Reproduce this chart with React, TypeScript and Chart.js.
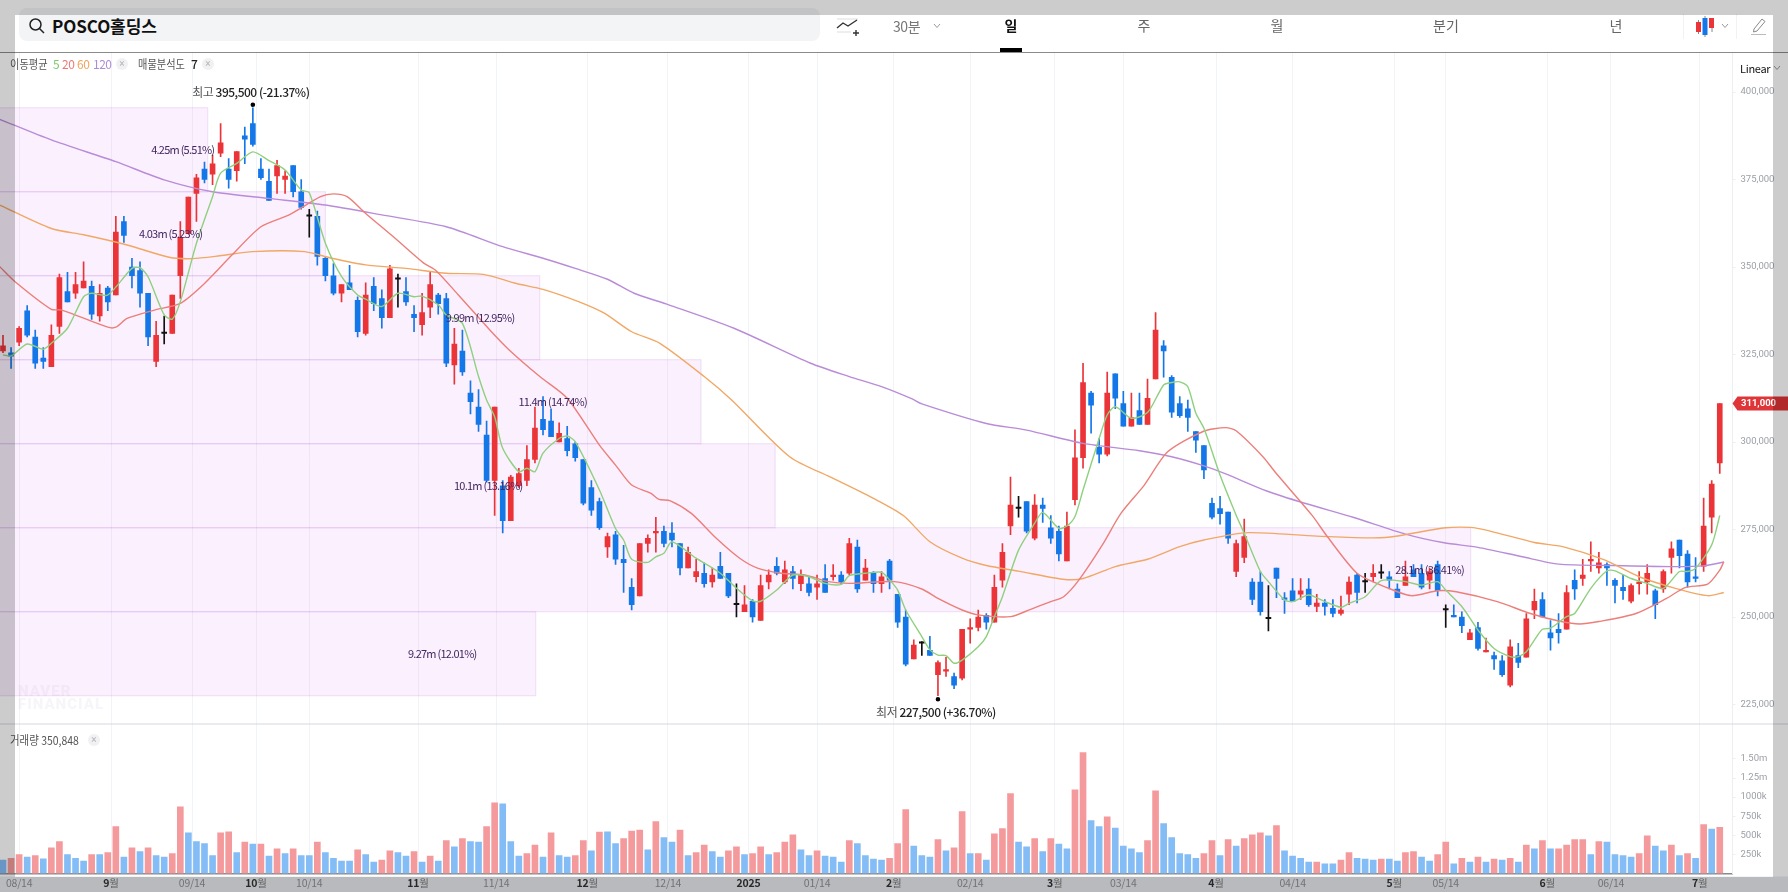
import { useEffect, useRef } from 'react';
import { Chart, registerables } from 'chart.js';

Chart.register(...registerables);

// candles, in thousand won
const opens = [
  326,325.5,328.5,337.5,330,324,321.5,333,343,342.5,
  344,344.5,336,344,342,363,350,349,342.5,323,
  331,331,347.5,359.5,371,378,376.5,382.5,378,377.5,
  387.5,391,378,374.5,376,375,379,371.5,364.5,364.5,
  352.5,347.5,342.5,345.5,340.5,331,344.5,341,335.5,346.5,
  343,336.5,333.5,338.5,342,341,322,326,314,310,
  302,289,287.5,277.5,287.5,289,295,306.5,306,300,
  301,299.5,295,287,283,270,273.5,266.5,258.5,256,
  271,274,274.5,274,271,264,261.5,262.5,260,264.5,
  262.5,253.5,251.5,254.5,249,260,264.5,260,263,259.5,
  259.5,258.5,261,261.5,262,262.5,270,260.5,262.5,259.5,
  266,256.5,250,238,242.5,240.5,233.5,234.5,233,232.5,
  246.5,247,250.5,248.5,260.5,276,281,283,272.5,282,
  275.5,274.5,266,283.5,295.5,314,298.5,296.5,319.5,311,
  304.5,309,305,318,327.5,318.5,311,309.5,303,299,
  282.5,281,280,263,267,260,260,249.5,264,255.5,
  257.5,256.5,258,253,254,252.5,251,256.5,262,260,
  261.5,262.5,261.5,258,259,263.5,262.5,260.5,265,252,
  250.5,250,243.5,247,240,239,237.5,230.5,239,238.5,
  252,255,245.5,246.5,246.5,260.5,261,266,264,265,
  260.5,258.5,254.5,259.5,260,257.5,258,267,272,268,
  261.5,264.5,278.5,294,
];
const closes = [
  327.5,324.5,332.5,330.5,322.5,323,330.5,347,340,345,
  346,336.5,342.5,340,360,359,347.5,342.5,330,330.5,
  331,342,358.5,370,375.5,375,379.5,385.5,375,383,
  386.5,385,375.5,369,379,376,371.5,367,364.5,353,
  347.5,342.5,345,343.5,331.5,342,339.5,335.5,349.5,346.5,
  340,335.5,337,345,339.5,322.5,328,320,311.5,305,
  289,310,277.5,290,291,295,304,303.5,301.5,302.5,
  297.5,295.5,282.5,280.5,275.5,273,266.5,265.5,253.5,271,
  272.5,274.5,271,272,264,268.5,263,259.5,262,261,
  256,253.5,253.5,250,259,262,262.5,263.5,261,262,
  257,259.5,257,262,260,271,258,264,259.5,261.5,
  260.5,248.5,236.5,242,242.5,239,237,235,230.5,246.5,
  247,250,248.5,258.5,268.5,282,281,274.5,282,281,
  272.5,268,276,295.5,317,310.5,296.5,314,312.5,304.5,
  307,305,312.5,332,326,308.5,307.5,307,300.5,292,
  278.5,279.5,272.5,271,273,255,251.5,249.5,261,255,
  254.5,257.5,253.5,254,253,251,252,260,257,260,
  262.5,262.5,260.5,255.5,261.5,261.5,258.5,263,257.5,252,
  250,247.5,245.5,241,240.5,238,233.5,241.5,237,249.5,
  254.5,250,244,245.5,257,258,262,266.5,265.5,264,
  259,257.5,259,260,262.5,253.5,263,269.5,267.5,260,
  261,276,288,311,
];
const highs = [
  330.5,327,333,339,332,327,333.5,348,348.5,348.5,
  351.5,346,345,344.5,364.5,364.5,352.5,351.5,342.5,334.5,
  336,342,363,370,376.5,380,382,391,381,383,
  390,395.5,381,378,380.5,377.5,379,375,366.5,366,
  353,351,345,350.5,341.5,345.5,347,343.5,350.5,348,
  347,339,342.5,348.5,342.5,342.5,332.5,332,317.5,315,
  306,310,289,290.5,292.5,299,310,313,309.5,305.5,
  304.5,300,295,289,284,274,274.5,270.5,261,271,
  273.5,278.5,276,277,271,270,266.5,265.5,264,268.5,
  262.5,259.5,259,255,262,263.5,267,266,264.5,263.5,
  261.5,262,265,265,263,272.5,272,266.5,263,263,
  266.5,256.5,252,243.5,243,244.5,237.5,238.5,234,246.5,
  249.5,252,251,262,271,290,284.5,283,285,284,
  279,276,280,303.5,322.5,314.5,301,320,319.5,314.5,
  314,314,318,337,329,319,313,312,303,299,
  284,284.5,280,272,278,261,263,259,264,257,
  261,261,261,256.5,255,255,256,261.5,262.5,262.5,
  265,265,263,259.5,266,265,265,264,266,253.5,
  253.5,251.5,246.5,248.5,244,240,239,243.5,242.5,251,
  258,257,249,251,259,263.5,266.5,271.5,268.5,265.5,
  261,262,259.5,263,265,258,263.5,271.5,272,269,
  267,284,289,311,
];
const lows = [
  325.5,321,327.5,330,321,321,321.5,331,340,341,
  344,335,334.5,337.5,342,357,344,338.5,327.5,321.5,
  328,331,341,359.5,363,374,373.5,381.5,372.5,374.5,
  379.5,384.5,375,369,371,371,370,366.5,358.5,350.5,
  346,342,340,343.5,330,330.5,337.5,332.5,335.5,338.5,
  339,331.5,330.5,335.5,336.5,321.5,316.5,319,308,303,
  288.5,279,274,277.5,287,287.5,294,302,301.5,300,
  296,294.5,282,279,275,267,265,257,252,256,
  268.5,268.5,270,270,262,264,260,258.5,258.5,261,
  255.5,250,251.5,248.5,249,258,262,259.5,258,257.5,
  256,255,257,260.5,259.5,262,257,260.5,257,257,
  258,247,236,238,239,239,227.5,233,229.5,232,
  242.5,246,246.5,248.5,258.5,273.5,278.5,274,272,277,
  271,266,266,282,292.5,302.5,294,296,309.5,304.5,
  304.5,305,305,318,318.5,307,307,303,297,289.5,
  278,276.5,271,261.5,265.5,253.5,250.5,246,255.5,251,
  254.5,255,253,251.5,250.5,250,250.5,253.5,254,257,
  260,261,258,255.5,259,261.5,258,258,256,247,
  250,245.5,243.5,240.5,240,235,233,230,235.5,238.5,
  249.5,250,240.5,242.5,246.5,255,259,263,262.5,259,
  254,255,254,256.5,256.5,249.5,257,262.5,264,258.5,
  260,263,274,291,
];

// volume, in thousand shares; r = red bar, b = blue bar
const volumes = [
  175,200,249,214,236,192,336,419,249,200,
  161,249,249,275,615,214,336,288,336,236,
  214,262,873,532,419,393,236,532,545,275,
  410,384,384,227,323,262,323,236,236,410,
  275,200,161,161,310,249,148,175,297,275,
  227,288,148,227,161,432,349,458,419,410,
  615,925,912,419,227,262,371,214,532,236,
  214,236,432,297,541,545,393,458,554,567,
  310,681,471,410,567,236,275,371,288,214,
  297,349,249,262,349,249,275,410,506,310,
  236,297,227,214,148,432,393,236,188,175,
  200,393,838,358,236,214,445,297,336,812,
  262,262,175,519,589,1047,410,349,458,288,
  458,384,323,1095,1584,694,615,742,593,358,
  323,275,432,1082,654,471,262,249,200,262,
  432,236,445,358,458,506,532,493,628,297,
  227,200,148,148,127,127,175,275,200,188,
  175,188,188,161,275,288,214,161,249,410,
  127,200,148,214,148,188,175,200,148,371,
  323,432,323,323,371,445,445,249,419,410,
  249,236,214,262,493,358,297,371,236,262,
  200,641,580,606,
];
const volumeDir =
  'brrbrbrrbb' + 'brbrrbrbrb' + 'brrbbbbrrb' + 'rbrbrbrbbr' + 'bbbbrbbrrb' + 'brbrbrbrbb' +
  'rrbbbrrbrb' + 'brrbrbbrrr' + 'brbbrbrrbb' + 'rrbrrbrrrb' + 'brbbbrbbbb' + 'rrrbbbrbrr' +
  'brbrrrbbrb' + 'rbbrrbbrbb' + 'bbrrbbbbbr' + 'rbrbrrrbrb' + 'bbbrbbrrbb' + 'brbbrrbbrr' +
  'brbrbrbrbr' + 'brbrrrrbrb' + 'bbbrrbbrbr' + 'brbr';

const ma5At = [0,1,3,5,6,8,10,11,13,16,17,18,20,21,22,24,26,27,29,31,33,35,37,38,40,42,44,45,47,49,51,52,54,55,57,59,60,61,62,64,65,66,67,69,70,71,74,76,77,78,80,81,82,83,86,89,91,93,94,96,98,100,102,104,105,107,109,110,111,112,114,115,116,117,118,119,121,122,123,124,126,128,129,131,132,133,134,136,137,138,140,142,144,145,146,147,148,149,151,153,154,156,157,159,160,162,164,166,167,169,171,174,176,178,179,181,183,185,187,188,189,190,191,192,194,195,197,199,200,202,204,206,208,209,210,212,213];
const ma5 = [324.9,324.6,328,326.5,328.2,332.5,341.5,342.5,342,349.6,349.8,347.2,336.3,335.1,340.1,356.8,370.1,376.8,379.6,382.9,380.4,377.7,372,371.2,356.8,347.3,342,340.8,338.7,342.5,341.5,341.7,339.2,336.3,333.9,318.7,312,307.2,298.2,291.5,292.5,291.5,296.8,301,301.7,300.1,286.3,275.3,272,266.5,265.6,267.2,268.2,271.5,266.8,262.5,258.2,254.6,254.5,257.7,262,261.5,259.6,259.3,261.8,262.5,262.8,260.6,257.7,252,244.4,240.6,239.1,239,236.8,237.7,241.5,244.4,250.1,255.8,269.1,276.8,279.9,275.3,276,278.7,286.3,301,307.7,310.1,306.8,308.4,316.3,317,317.2,315.8,308.2,303.9,290.6,279.1,273.9,263,260.1,254.9,254.4,256.3,254.4,252.8,253.9,255.8,260.4,260.1,259.1,260.1,257.7,253,246.3,241,238.7,238.7,240.1,243.4,246.5,246.8,250.1,251,258.2,263.2,263.2,261,259.6,258.2,263,263,263.9,270.6,279];

const ma20At = [-0.4,1.5,6,7.3,13,14,15.4,18.8,22,25,28.4,32,35.5,39.4,41,42.7,45,48.4,52.2,53.7,56.5,60.4,62.8,66.6,70,74,76,78,80.4,81.4,82.8,85.4,88.5,91.4,93.7,96.6,99.5,102.4,105,110.6,114,116,119,121,125,127.5,130,131.6,133.5,136.4,138.7,141.6,144.5,148.9,151.7,153,156.4,157.8,162.4,164.3,168,171.4,174.7,178,180.3,185.4,189.5,193.3,195.6,198,202.6,206.4,208.7,211.5,213,213.5];
const ma20 = [350.1,345.8,337.9,337.7,332.8,332.8,335.3,337.7,339.6,345.3,353.4,361.5,364.9,370.1,370.9,370.1,365.3,358.7,351.1,349,342,332,326.3,318.7,312.5,299.1,293.4,287.7,285.3,283.6,283.2,279.6,272.5,266.8,263.9,262.5,262,260.1,259.6,260.1,258,255.3,252,250.6,250.1,252.2,254.4,255.8,260.6,270.6,279.6,287.7,297.2,303,304.1,303.2,295.6,291.5,279.1,273,262.5,258.7,256.1,257.5,257.2,254.4,251,248.7,248,248.7,251,255.3,258.4,259.4,263.4,265.8];

const ma60At = [-0.4,6,10,15.4,20.6,23.5,26.9,31,37.4,40.8,45,50,55,59.6,63.7,67,71.4,74.6,78,81.5,87,90.4,97.6,103,108,111.7,115,119,122,126,131.5,134,138,142,146,149,154.5,163,171.5,179,182.8,190,193.5,198.7,203,207.5,211.5,213.5];
const ma60 = [367.7,361,359.2,356.3,352.8,352.4,353.2,354.4,354.4,352.5,350.6,349.6,348.2,347.9,345.3,343.6,340.1,336.8,331.5,328.2,318.7,312,295.8,289.6,283.9,279,271.5,266.8,264.7,263.1,260.8,261,264.4,266.5,270.1,272,274.1,273.1,272.7,275.5,275.4,271.3,270.1,266.3,261.5,258.2,256.1,257];

const ma120At = [-0.4,6,14,20,26,33,40,47,55,62,67,71,75,78.3,82.6,90.7,100.2,105,109,112.8,114,122,127,134,141,145,149,151.7,156.8,161.5,167.5,174,178.8,183,188.5,193,200,207,211,213.5];
const ma120 = [392.2,386.3,380.1,374.9,371.5,369.6,367.7,364.9,361.5,355.8,352.5,349.6,346.5,342.5,339.2,332.5,322.5,318.7,315.8,312.3,310.9,305.3,303.4,299.6,297.5,295.8,293.2,290.9,286,282.5,278.5,273.7,271.2,269.9,267.2,265.1,264.7,264.4,264.6,265.7];

// x axis
const tickAt = [2,13.4,23.45,31.4,38,51.5,61.2,72.5,82.5,92.5,101,110.5,120,130.5,139,150.5,160,172.6,179,191.6,199.5,210.5];
const tickMain = ['08/14','9','09/14','10','10/14','11','11/14','12','12/14','2025','01/14','2','02/14','3','03/14','4','04/14','5','05/14','6','06/14','7'];
const priceTicks = [225,250,275,300,325,350,375,400];
const volumeTicks = [250,500,750,1000,1250,1500];
const volumeTickLabels = ['250k','500k','750k','1000k','1.25m','1.50m'];

// 매물분석도 price bands
const bandTop = [395.5,371.5,347.5,323.5,299.5,275.5,251.5];
const bandBottom = [371.5,347.5,323.5,299.5,275.5,251.5,227.5];
const bandEnd = [25.4,40,66.6,86.6,95.8,182.1,66.1];
const bandText = ['4.25m (5.51%)','4.03m (5.23%)','9.99m (12.95%)','11.4m (14.74%)','10.1m (13.16%)','28.1m (36.41%)','9.27m (12.01%)'];
const bandTextAt = [22.3,20.8,59.2,68.2,60.2,177,54.5];

const lastPrice = 311;
const UP = '#ea3438';
const DOWN = '#1477e8';
const FLAT = '#111111';
const candleColor = closes.map((c, i) => (c === opens[i] ? FLAT : c > opens[i] ? UP : DOWN));
const KR = '"Noto Sans CJK KR", "Noto Sans", sans-serif';

const pairs = (at: number[], v: number[]) => at.map((x, i) => ({ x, y: v[i] }));

const mixedText = (ctx: any, x: number, y: number, parts: [string, string, string][], spacing = '-0.5px') => {
  // parts: text, font, colour. x is the centre of the whole run
  ctx.letterSpacing = spacing;
  let w = 0;
  parts.forEach(([t, f]) => { ctx.font = f; w += ctx.measureText(t).width; });
  let cx = x - w / 2;
  ctx.textAlign = 'left';
  ctx.textBaseline = 'middle';
  parts.forEach(([t, f, c]) => {
    ctx.font = f;
    ctx.fillStyle = c;
    ctx.fillText(t, cx, y);
    cx += ctx.measureText(t).width;
  });
  ctx.letterSpacing = '0px';
};

const marks = {
  id: 'marks',
  beforeDatasetsDraw(chart: any) {
    const { ctx, scales } = chart;
    const { x, yPrice } = scales;
    ctx.save();
    bandTop.forEach((top, i) => {
      const y0 = yPrice.getPixelForValue(top);
      const y1 = yPrice.getPixelForValue(bandBottom[i]);
      const x1 = x.getPixelForValue(bandEnd[i]);
      ctx.fillStyle = 'rgba(205,80,245,0.085)';
      ctx.strokeStyle = 'rgba(175,110,215,0.2)';
      ctx.lineWidth = 1;
      ctx.fillRect(0, y0, x1, y1 - y0);
      ctx.strokeRect(-2, y0, x1 + 2, y1 - y0);
    });
    ctx.restore();
  },
  afterDatasetsDraw(chart: any) {
    const { ctx, scales } = chart;
    const { x, yPrice, yVol } = scales;
    ctx.save();
    // band labels sit over the candles
    ctx.fillStyle = '#43265f';
    ctx.font = `11px ${KR}`;
    ctx.textAlign = 'center';
    ctx.textBaseline = 'middle';
    ctx.letterSpacing = '-0.75px';
    bandText.forEach((t, i) => {
      const y = (yPrice.getPixelForValue(bandTop[i]) + yPrice.getPixelForValue(bandBottom[i])) / 2;
      ctx.fillText(t, x.getPixelForValue(bandTextAt[i]), y);
    });
    ctx.letterSpacing = '0px';

    // high / low markers
    const hiX = x.getPixelForValue(31);
    const hiY = yPrice.getPixelForValue(395.5);
    const loX = x.getPixelForValue(116);
    const loY = yPrice.getPixelForValue(227.5);
    ctx.fillStyle = '#000';
    ctx.beginPath();
    ctx.arc(hiX, hiY - 3, 2.3, 0, Math.PI * 2);
    ctx.arc(loX, loY + 3.5, 2.3, 0, Math.PI * 2);
    ctx.fill();
    const strong = `500 12px ${KR}`;
    const plain = `12px ${KR}`;
    mixedText(ctx, hiX - 2, hiY - 15, [['최고 ', plain, '#555'], ['395,500 (-21.37%)', strong, '#222']]);
    mixedText(ctx, loX - 2, loY + 17, [['최저 ', plain, '#555'], ['227,500 (+36.70%)', strong, '#222']]);

    // divider between the panes
    ctx.strokeStyle = '#d6d6e0';
    ctx.lineWidth = 1;
    ctx.beginPath();
    ctx.moveTo(0, yVol.top);
    ctx.lineTo(chart.width, yVol.top);
    ctx.stroke();
    ctx.restore();
  },
  afterDraw(chart: any) {
    const { ctx, scales, width, height } = chart;
    const { x, yPrice, yVol } = scales;
    ctx.save();
    // last price tag
    const ty = yPrice.getPixelForValue(lastPrice);
    const tx = yPrice.left;
    ctx.fillStyle = '#df3438';
    ctx.beginPath();
    ctx.moveTo(tx, ty);
    ctx.lineTo(tx + 5, ty - 7);
    ctx.lineTo(width, ty - 7);
    ctx.lineTo(width, ty + 7);
    ctx.lineTo(tx + 5, ty + 7);
    ctx.closePath();
    ctx.fill();
    ctx.fillStyle = '#fff';
    ctx.font = '700 9.5px Roboto';
    ctx.textAlign = 'left';
    ctx.textBaseline = 'middle';
    ctx.fillText('311,000', 1741, ty + 0.5);

    // time strip
    const stripTop = yVol.bottom + 3;
    ctx.fillStyle = '#e7e9ed';
    ctx.fillRect(0, stripTop, width, height - stripTop);
    tickAt.forEach((at, i) => {
      const tx2 = x.getPixelForValue(at);
      const t = tickMain[i];
      const y = 883;
      if (t.includes('/')) {
        ctx.font = `10.5px ${KR}`;
        ctx.fillStyle = '#8c9096';
        ctx.textAlign = 'center';
        ctx.textBaseline = 'middle';
        ctx.letterSpacing = '-0.2px';
        ctx.fillText(t, tx2, y);
        ctx.letterSpacing = '0px';
      } else if (t.length === 4) {
        mixedText(ctx, tx2, y, [[t, `700 10.5px ${KR}`, '#333']], '-0.2px');
      } else {
        mixedText(ctx, tx2, y, [[t, `700 10.5px ${KR}`, '#333'], ['월', `10.5px ${KR}`, '#777']], '-0.2px');
      }
    });
    ctx.restore();
  },
};

const Txt = ({ x, y, size = 12, color = '#444', weight = 400, children, center = false, spacing = 0, squeeze = 1 }: any) => (
  <div
    style={{
      position: 'absolute',
      left: x,
      top: y,
      transform: center ? 'translate(-50%,-50%)' : `translateY(-50%) scaleX(${squeeze})`,
      transformOrigin: 'left center',
      fontFamily: KR,
      fontSize: size,
      color,
      fontWeight: weight,
      letterSpacing: spacing,
      whiteSpace: 'nowrap',
      lineHeight: 1,
    }}
  >
    {children}
  </div>
);

const Box = ({ x, y, w, h, color, radius = 0 }: any) => (
  <div style={{ position: 'absolute', left: x, top: y, width: w, height: h, background: color, borderRadius: radius }} />
);

const CloseDot = ({ x, y }: any) => (
  <div
    style={{
      position: 'absolute', left: x - 6, top: y - 6, width: 12, height: 12, borderRadius: 6, background: '#f1f1f3',
      color: '#b5b5ba', fontSize: 10, lineHeight: '12px', textAlign: 'center', fontFamily: 'Roboto',
    }}
  >
    ×
  </div>
);

const Chevron = ({ x, y }: any) => (
  <svg style={{ position: 'absolute', left: x - 4, top: y - 3 }} width={8} height={6} viewBox="0 0 8 6">
    <path d="M1 1 L4 4.5 L7 1" fill="none" stroke="#999" strokeWidth={1} />
  </svg>
);

export default function App() {
  const canvasRef = useRef<HTMLCanvasElement>(null);

  useEffect(() => {
    if (!canvasRef.current) return;
    const line = (label: string, at: number[], v: number[], color: string, order: number) => ({
      type: 'line' as const,
      label,
      data: pairs(at, v),
      yAxisID: 'yPrice',
      borderColor: color,
      borderWidth: 1.4,
      pointRadius: 0,
      tension: 0.25,
      order,
    });
    const chart = new Chart(canvasRef.current, {
      type: 'bar',
      data: {
        datasets: [
          line('5', ma5At, ma5, '#8fd07f', 1),
          line('20', ma20At, ma20, '#ec7f7a', 2),
          line('60', ma60At, ma60, '#f1a865', 3),
          line('120', ma120At, ma120, '#b98cd8', 4),
          {
            label: 'body',
            data: opens.map((o, i) => ({ x: i, y: [o, closes[i]] })),
            yAxisID: 'yPrice',
            backgroundColor: candleColor,
            barThickness: 5,
            minBarLength: 1.5,
            grouped: false,
            order: 5,
          },
          {
            label: 'wick',
            data: lows.map((l, i) => ({ x: i, y: [l, highs[i]] })),
            yAxisID: 'yPrice',
            backgroundColor: candleColor,
            barThickness: 1,
            grouped: false,
            order: 6,
          },
          {
            label: 'volume',
            data: volumes.map((v, i) => ({ x: i, y: v })),
            yAxisID: 'yVol',
            backgroundColor: volumes.map((_, i) => (volumeDir[i] === 'r' ? '#f59a9c' : '#84bcf5')),
            barThickness: 6,
            grouped: false,
            order: 7,
          },
        ] as any,
      },
      options: {
        animation: false,
        responsive: false,
        layout: { padding: { top: 52, left: 0, right: 0, bottom: 0 } },
        plugins: { legend: { display: false }, tooltip: { enabled: false } },
        scales: {
          x: {
            type: 'linear',
            offset: false,
            min: -0.372,
            max: 214.58,
            afterBuildTicks: (s: any) => { s.ticks = tickAt.map((value) => ({ value })); },
            afterFit: (s: any) => { s.height = 18.5; },
            ticks: { display: false },
            grid: { color: '#f2f3f6', tickLength: 0, offset: false },
            border: { color: '#8a8a8a', width: 1.5 },
          },
          yPrice: {
            type: 'linear',
            position: 'right',
            stack: 'panes',
            stackWeight: 672,
            weight: 0,
            min: 219.43,
            max: 411.43,
            afterBuildTicks: (s: any) => { s.ticks = priceTicks.map((value) => ({ value })); },
            afterFit: (s: any) => { s.width = 55.5; },
            ticks: {
              padding: 5,
              autoSkip: false,
              color: '#9b9fa6',
              font: { family: 'Roboto', size: 9.5 },
              callback: (v: any) => (v * 1000).toLocaleString('en-US'),
            },
            grid: { drawOnChartArea: false, tickLength: 3, color: '#eceef1' },
            border: { color: '#eceef1' },
          },
          yVol: {
            type: 'linear',
            position: 'right',
            stack: 'panes',
            stackWeight: 149.5,
            weight: 1,
            min: 0,
            max: 1957,
            afterBuildTicks: (s: any) => { s.ticks = volumeTicks.map((value) => ({ value })); },
            afterFit: (s: any) => { s.width = 55.5; },
            ticks: {
              padding: 5,
              autoSkip: false,
              color: '#9b9fa6',
              font: { family: 'Roboto', size: 9.5 },
              callback: (v: any) => volumeTickLabels[volumeTicks.indexOf(v)],
            },
            grid: { drawOnChartArea: false, tickLength: 3, color: '#eceef1' },
            border: { color: '#eceef1' },
          },
        },
      } as any,
      plugins: [marks],
    });
    return () => chart.destroy();
  }, []);

  return (
    <div style={{ position: 'fixed', left: 0, top: 0, width: 1788, height: 892, overflow: 'hidden', background: '#fff' }}>
      <canvas ref={canvasRef} width={1788} height={892} style={{ position: 'absolute', left: 0, top: 0 }} />

      {/* toolbar */}
      <Box x={19} y={8} w={801} h={33} color="#f3f4f6" radius={8} />
      <svg style={{ position: 'absolute', left: 28, top: 17 }} width={18} height={18} viewBox="0 0 18 18">
        <circle cx={7.5} cy={7.5} r={5.5} fill="none" stroke="#222" strokeWidth={1.5} />
        <path d="M11.5 11.5 L16 16" stroke="#222" strokeWidth={1.5} />
      </svg>
      <Txt x={52} y={25} size={17} weight={700} color="#111" spacing={-0.1}>POSCO홀딩스</Txt>
      <svg style={{ position: 'absolute', left: 836, top: 15 }} width={24} height={22} viewBox="0 0 24 22">
        <path d="M1 4 H22 M1 17 H15" stroke="#ddd" strokeWidth={1} />
        <path d="M1 13 L7 8 L12 11 L21 5" fill="none" stroke="#333" strokeWidth={1.4} />
        <path d="M17 18 H23 M20 15 V21" stroke="#333" strokeWidth={1.4} />
      </svg>
      <Txt x={893} y={26} size={14} color="#777" spacing={-0.4}>30분</Txt>
      <Chevron x={937} y={26} />
      <Txt x={1011} y={25} size={14} weight={700} color="#111" center>일</Txt>
      <Txt x={1144} y={25} size={14} color="#666" center>주</Txt>
      <Txt x={1277} y={25} size={14} color="#666" center>월</Txt>
      <Txt x={1446} y={25} size={14} color="#666" center>분기</Txt>
      <Txt x={1616} y={25} size={14} color="#666" center>년</Txt>
      <Box x={1683} y={14} w={1} h={25} color="#f2f2f4" />
      <Box x={1736} y={14} w={1} h={25} color="#f2f2f4" />
      <svg style={{ position: 'absolute', left: 1695, top: 15 }} width={20} height={22} viewBox="0 0 20 22">
        <path d="M3.5 5 V19 M10 1 V22 M17 3 V17" stroke="#888" strokeWidth={1} />
        <rect x={1} y={7} width={5} height={10} fill="#ea3438" />
        <rect x={7.5} y={3} width={5} height={17} fill="#1477e8" />
        <rect x={14} y={3} width={5} height={10} fill="#ea3438" />
      </svg>
      <Chevron x={1725} y={26} />
      <svg style={{ position: 'absolute', left: 1751, top: 17 }} width={16} height={18} viewBox="0 0 16 18">
        <path d="M3 12 L11 2 L14 4.5 L6 14 L2.5 15 Z" fill="none" stroke="#888" strokeWidth={1} />
        <path d="M0 17.5 H15" stroke="#bbb" strokeWidth={1} />
      </svg>
      <Box x={0} y={51.5} w={1788} h={1.5} color="#8a8a8a" />
      <Box x={1000} y={48} w={22} h={4} color="#000" />

      {/* price pane legend */}
      <Txt x={10} y={64} size={12} color="#555" squeeze={0.85}>이동평균</Txt>
      <Txt x={53} y={64} size={12} color="#7ec96d">5</Txt>
      <Txt x={62} y={64} size={12} color="#ea7a76" spacing={-0.5}>20</Txt>
      <Txt x={77} y={64} size={12} color="#f0a55e" spacing={-0.5}>60</Txt>
      <Txt x={93} y={64} size={12} color="#b08ad6" spacing={-0.5}>120</Txt>
      <CloseDot x={122} y={64} />
      <Txt x={138} y={64} size={12} color="#555" squeeze={0.85}>매물분석도</Txt>
      <Txt x={191} y={64} size={12} color="#222" weight={500}>7</Txt>
      <CloseDot x={208} y={64} />
      <Txt x={1740} y={68} size={11} color="#111" spacing={-0.3}>Linear</Txt>
      <Chevron x={1777} y={68} />

      <div style={{ position: 'absolute', left: 18, top: 685, fontFamily: 'Roboto', fontWeight: 900, fontSize: 15, lineHeight: '13px', letterSpacing: 1, color: 'rgba(140,110,170,0.07)' }}>
        NAVER<br />FINANCIAL
      </div>

      {/* volume pane legend */}
      <Txt x={10} y={740} size={12} color="#555" squeeze={0.87}>거래량 350,848</Txt>
      <CloseDot x={94} y={740} />

      {/* dim frame around the window */}
      <Box x={0} y={0} w={1788} h={15} color="rgba(0,0,0,0.2)" />
      <Box x={0} y={877} w={1788} h={15} color="rgba(0,0,0,0.2)" />
      <Box x={0} y={15} w={15} h={862} color="rgba(0,0,0,0.2)" />
      <Box x={1773} y={15} w={15} h={862} color="rgba(0,0,0,0.2)" />
    </div>
  );
}
